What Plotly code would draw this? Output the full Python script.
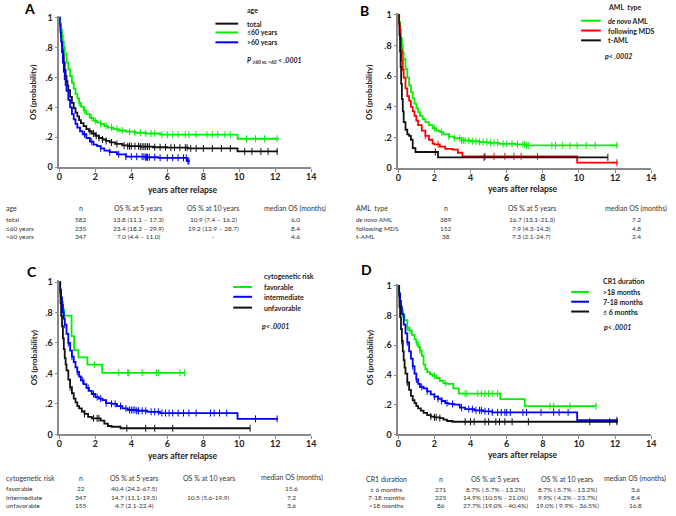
import numpy as np
import plotly.graph_objects as go

W, H = 676, 516

# ---------------- DATA ----------------
# Panel A: age
A_total_t = [0, 0.03, 0.06, 0.1, 0.15, 0.2, 0.25, 0.3, 0.35, 0.4, 0.45, 0.5, 0.6, 0.7, 0.8, 0.9, 1.0, 1.1, 1.2, 1.35, 1.5, 1.65, 1.8, 2.0, 2.2, 2.4, 2.6, 2.8, 3.1, 3.5, 3.8, 4.5, 5.2, 6.0, 7.15, 9.9, 12.15]
A_total_s = [1, 0.96, 0.92, 0.87, 0.81, 0.75, 0.70, 0.65, 0.61, 0.575, 0.545, 0.515, 0.47, 0.43, 0.395, 0.365, 0.34, 0.315, 0.295, 0.275, 0.255, 0.24, 0.225, 0.21, 0.195, 0.185, 0.175, 0.165, 0.155, 0.145, 0.14, 0.137, 0.133, 0.13, 0.125, 0.105, 0.105]
A_total_c = [1.7, 1.9, 2.05, 2.2, 2.4, 2.6, 2.9, 3.2, 3.6, 3.8, 3.9, 4.0, 4.2, 4.4, 4.5, 4.6, 4.7, 4.8, 4.9, 5.0, 5.3, 5.6, 5.9, 6.2, 6.4, 6.7, 7.0, 7.1, 7.3, 7.6, 8.0, 8.5, 9.0, 9.5, 10.3, 10.7, 11.2, 11.6, 12.1]
A_young_t = [0, 0.05, 0.1, 0.15, 0.2, 0.25, 0.3, 0.4, 0.5, 0.6, 0.7, 0.8, 0.9, 1.0, 1.1, 1.2, 1.35, 1.5, 1.7, 1.9, 2.1, 2.3, 2.5, 2.7, 3.0, 3.3, 3.7, 4.2, 4.8, 5.6, 9.9, 12.2]
A_young_s = [1, 0.96, 0.92, 0.88, 0.84, 0.80, 0.76, 0.70, 0.655, 0.61, 0.565, 0.525, 0.49, 0.46, 0.43, 0.405, 0.38, 0.355, 0.33, 0.31, 0.30, 0.29, 0.275, 0.265, 0.255, 0.245, 0.237, 0.23, 0.225, 0.217, 0.19, 0.19]
A_young_c = [1.1, 1.4, 1.8, 2.0, 2.3, 2.6, 2.9, 3.2, 3.5, 3.9, 4.2, 4.5, 4.8, 5.1, 5.3, 5.7, 6.0, 6.3, 6.6, 7.0, 7.2, 7.6, 8.2, 8.5, 8.8, 9.2, 9.5, 10.4, 10.9, 11.4, 12.1]
A_old_t = [0, 0.03, 0.06, 0.1, 0.15, 0.2, 0.25, 0.3, 0.35, 0.4, 0.5, 0.6, 0.7, 0.8, 0.9, 1.0, 1.15, 1.3, 1.5, 1.7, 1.9, 2.1, 2.3, 2.5, 2.8, 3.2, 3.7, 4.8, 5.5, 7.1, 7.25]
A_old_s = [1, 0.95, 0.9, 0.84, 0.77, 0.70, 0.64, 0.59, 0.55, 0.51, 0.45, 0.40, 0.355, 0.32, 0.29, 0.265, 0.24, 0.22, 0.195, 0.17, 0.15, 0.14, 0.125, 0.11, 0.10, 0.085, 0.07, 0.066, 0.062, 0.04, 0.04]
A_old_c = [1.4, 1.8, 2.3, 2.8, 3.3, 3.7, 4.0, 4.3, 4.6, 4.7, 4.8, 4.85, 4.9, 5.0, 5.3, 5.6, 6.0, 6.3, 6.6, 6.9, 7.05, 7.15, 7.2]

# Panel B: AML type
B_denovo_t = [0, 0.05, 0.1, 0.15, 0.2, 0.25, 0.3, 0.4, 0.5, 0.6, 0.7, 0.8, 0.9, 1.0, 1.1, 1.2, 1.35, 1.5, 1.7, 1.9, 2.1, 2.3, 2.5, 2.8, 3.1, 3.5, 4.0, 4.5, 5.0, 5.6, 6.5, 7.1, 12.15]
B_denovo_s = [1, 0.95, 0.9, 0.85, 0.80, 0.755, 0.71, 0.645, 0.59, 0.54, 0.495, 0.455, 0.42, 0.39, 0.365, 0.34, 0.32, 0.30, 0.28, 0.26, 0.245, 0.235, 0.22, 0.205, 0.195, 0.18, 0.175, 0.17, 0.165, 0.158, 0.155, 0.148, 0.148]
B_denovo_c = [2.0, 2.4, 2.8, 3.1, 3.4, 3.5, 3.6, 3.7, 3.9, 4.1, 4.3, 4.5, 4.7, 4.9, 5.1, 5.3, 5.5, 5.8, 6.0, 6.3, 6.6, 6.9, 7.0, 7.1, 7.2, 8.5, 8.7, 9.1, 9.5, 9.9, 10.4, 10.9, 12.1]
B_mds_t = [0, 0.05, 0.1, 0.15, 0.2, 0.25, 0.3, 0.4, 0.5, 0.6, 0.7, 0.8, 0.9, 1.0, 1.1, 1.3, 1.5, 1.7, 1.9, 2.0, 2.3, 2.6, 3.0, 3.3, 3.55, 9.9, 12.15]
B_mds_s = [1, 0.93, 0.85, 0.77, 0.70, 0.64, 0.59, 0.52, 0.47, 0.44, 0.40, 0.37, 0.34, 0.31, 0.28, 0.245, 0.21, 0.185, 0.16, 0.155, 0.14, 0.125, 0.12, 0.10, 0.077, 0.035, 0.035]
B_mds_c = [1.5, 2.2, 4.8, 5.3, 5.9, 6.4, 6.8, 7.7, 12.1]
B_taml_t = [0, 0.03, 0.06, 0.1, 0.13, 0.16, 0.2, 0.25, 0.3, 0.4, 0.5, 0.6, 0.7, 0.8, 0.95, 2.2, 11.6]
B_taml_s = [1, 0.95, 0.87, 0.76, 0.66, 0.55, 0.45, 0.37, 0.30, 0.25, 0.22, 0.21, 0.185, 0.13, 0.105, 0.07, 0.07]
B_taml_c = [2.05, 4.75, 11.6]

# Panel C: cytogenetic risk
C_fav_t = [0, 0.05, 0.1, 0.2, 0.27, 0.68, 0.82, 1.06, 1.56, 2.38, 6.96]
C_fav_s = [1, 0.91, 0.87, 0.82, 0.78, 0.645, 0.553, 0.505, 0.458, 0.404, 0.404]
C_fav_c = [0.15, 1.95, 3.3, 3.8, 3.85, 4.6, 5.4, 5.5, 6.7, 6.96]
C_int_t = [0, 0.05, 0.1, 0.15, 0.2, 0.25, 0.3, 0.4, 0.5, 0.6, 0.7, 0.8, 0.9, 1.0, 1.1, 1.2, 1.35, 1.5, 1.65, 1.8, 2.0, 2.2, 2.4, 2.6, 2.9, 3.2, 3.5, 3.8, 4.3, 4.9, 5.6, 9.9, 12.15]
C_int_s = [1, 0.95, 0.9, 0.85, 0.80, 0.76, 0.72, 0.66, 0.60, 0.55, 0.51, 0.475, 0.44, 0.41, 0.38, 0.355, 0.33, 0.305, 0.285, 0.265, 0.245, 0.235, 0.225, 0.205, 0.2, 0.185, 0.17, 0.16, 0.155, 0.148, 0.14, 0.102, 0.102]
C_int_c = [0.3, 0.5, 0.7, 1.0, 1.3, 1.6, 1.9, 2.1, 2.3, 2.6, 2.9, 3.1, 3.4, 3.7, 3.9, 4.0, 4.1, 4.2, 4.3, 4.4, 4.6, 4.8, 5.1, 5.3, 5.5, 5.7, 5.9, 6.1, 6.3, 6.6, 6.9, 7.2, 7.6, 8.4, 8.6, 8.9, 9.3, 10.9, 12.1]
C_unf_t = [0, 0.03, 0.06, 0.1, 0.15, 0.2, 0.25, 0.3, 0.35, 0.4, 0.5, 0.6, 0.7, 0.8, 0.9, 1.0, 1.1, 1.25, 1.4, 1.6, 1.8, 2.0, 2.3, 2.5, 2.7, 2.9, 3.4, 10.6]
C_unf_s = [1, 0.93, 0.86, 0.78, 0.71, 0.63, 0.56, 0.50, 0.46, 0.42, 0.36, 0.31, 0.27, 0.235, 0.21, 0.185, 0.17, 0.15, 0.135, 0.115, 0.105, 0.105, 0.09, 0.07, 0.055, 0.05, 0.04, 0.04]
C_unf_c = [0.6, 1.4, 1.9, 2.1, 2.2, 3.75, 4.8, 5.3, 6.3, 10.6]

# Panel D: CR1 duration
D_long_t = [0, 0.05, 0.1, 0.15, 0.25, 0.35, 0.5, 0.6, 0.75, 0.9, 1.0, 1.1, 1.2, 1.3, 1.4, 1.5, 1.6, 1.75, 1.9, 2.1, 2.3, 2.5, 2.7, 3.05, 3.35, 5.65, 7.0, 10.95]
D_long_s = [1, 0.93, 0.88, 0.84, 0.80, 0.77, 0.72, 0.70, 0.67, 0.64, 0.62, 0.59, 0.565, 0.53, 0.47, 0.44, 0.42, 0.405, 0.395, 0.38, 0.36, 0.345, 0.34, 0.31, 0.275, 0.237, 0.19, 0.19]
D_long_c = [0.1, 0.3, 0.5, 0.65, 1.0, 1.2, 2.0, 2.6, 3.7, 3.8, 4.4, 4.6, 4.8, 5.0, 5.2, 5.5, 8.4, 8.6, 9.5, 10.95]
D_mid_t = [0, 0.05, 0.1, 0.15, 0.2, 0.3, 0.4, 0.5, 0.6, 0.7, 0.8, 0.9, 1.0, 1.1, 1.2, 1.4, 1.6, 1.8, 2.0, 2.2, 2.4, 2.6, 2.8, 3.1, 3.4, 3.7, 4.2, 4.7, 5.2, 9.9, 12.15]
D_mid_s = [1, 0.95, 0.90, 0.86, 0.81, 0.74, 0.68, 0.62, 0.56, 0.51, 0.46, 0.41, 0.37, 0.34, 0.32, 0.31, 0.29, 0.27, 0.255, 0.24, 0.225, 0.21, 0.205, 0.2, 0.18, 0.17, 0.162, 0.155, 0.148, 0.095, 0.095]
D_mid_c = [0.5, 0.8, 1.0, 1.3, 1.6, 2.0, 2.2, 2.4, 2.7, 3.0, 3.5, 3.9, 4.1, 4.3, 4.5, 4.6, 4.8, 5.0, 5.2, 5.5, 5.7, 5.9, 6.0, 6.2, 6.9, 7.1, 7.9, 8.6, 8.9, 9.4, 12.1]
D_short_t = [0, 0.03, 0.06, 0.1, 0.15, 0.2, 0.25, 0.3, 0.35, 0.4, 0.5, 0.6, 0.7, 0.8, 0.9, 1.0, 1.1, 1.25, 1.4, 1.6, 1.8, 2.0, 2.3, 2.5, 2.7, 3.0, 12.15]
D_short_s = [1, 0.93, 0.86, 0.79, 0.71, 0.63, 0.56, 0.50, 0.45, 0.41, 0.35, 0.30, 0.26, 0.23, 0.21, 0.19, 0.175, 0.16, 0.145, 0.13, 0.12, 0.115, 0.11, 0.1, 0.09, 0.085, 0.085]
D_short_c = [0.2, 0.5, 1.8, 2.0, 2.1, 2.3, 3.7, 4.0, 4.2, 4.8, 5.0, 5.4, 5.6, 5.9, 6.3, 7.2, 10.6, 11.7, 12.1]

x_ticks = [0, 2, 4, 6, 8, 10, 12, 14]
y_ticks = [0, 0.2, 0.4, 0.6, 0.8, 1.0]
y_tick_labels = ["0", ".2", ".4", ".6", ".8", "1"]

# Tables
A_head = ["age", "n", "OS % at 5 years", "OS % at 10 years", "median OS (months)"]
A_rows = [["total", "582", "13.8 (11.1 – 17.3)", "10.9 (7.4 – 16.2)", "6.0"],
          ["≤60 years", "235", "23.4 (18.2 – 29.9)", "19.2 (12.9 – 28.7)", "8.4"],
          [">60 years", "347", "7.0 (4.4 – 11.0)", "-", "4.6"]]
B_head = ["AML  type", "n", "OS % at 5 years", "median OS (months)"]
B_rows = [["<i>de novo</i> AML", "389", "16.7 (13.1-21.3)", "7.2"],
          ["following MDS", "152", "7.9 (4.3-14.3)", "4.8"],
          ["t-AML", "38", "7.3 (2.1-24.7)", "2.4"]]
C_head = ["cytogenetic risk", "n", "OS % at 5 years", "OS % at 10 years", "median OS (months)"]
C_rows = [["favorable", "22", "40.4 (24.2-67.5)", "", "15.6"],
          ["intermediate", "347", "14.7 (11.1-19.5)", "10.5 (5.6-19.9)", "7.2"],
          ["unfavorable", "155", "4.7 (2.1-22.4)", "", "3.6"]]
D_head = ["CR1 duration", "n", "OS % at 5 years", "OS % at 10 years", "median OS (months)"]
D_rows = [["≤ 6 months", "271", "8.7% ( 5.7% - 13.2%)", "8.7% ( 5.7% - 13.2%)", "3.6"],
          ["7-18 months", "225", "14.9% (10.5% - 21.0%)", "9.9% ( 4.2% - 23.7%)", "8.4"],
          [">18 months", "86", "27.7% (19.0% - 40.4%)", "19.0% ( 9.9% - 36.5%)", "16.8"]]

GREEN, BLUE, BLACK, RED = "#00f000", "#0000ff", "#111111", "#ff0000"

# ---------------- LAYOUT HELPERS ----------------
def fx(px):
    return px / W

def fy(py):
    return 1 - py / H

annotations = []
shapes = []

def txt(x, y, s, size=7, bold=False, italic=False, xanchor="left", color="#222", angle=0):
    annotations.append(dict(
        x=fx(x), y=fy(y), xref="paper", yref="paper", text=s, showarrow=False,
        xanchor=xanchor, yanchor="middle", textangle=angle,
        font=dict(family="Lato", size=size, color=color,
                  weight="bold" if bold else "normal",
                  style="italic" if italic else "normal")))

fig = go.Figure()

def step_at(ts, ss, t):
    i = np.searchsorted(np.array(ts), t, side="right") - 1
    return float(ss[max(i, 0)])

panels = [
    dict(ax="", x0=57, x1=312, y0=166, y1=14,
         curves=[(A_total_t, A_total_s, A_total_c, BLACK),
                 (A_young_t, A_young_s, A_young_c, GREEN),
                 (A_old_t, A_old_s, A_old_c, BLUE)]),
    dict(ax="2", x0=400, x1=656, y0=167, y1=11,
         curves=[(B_denovo_t, B_denovo_s, B_denovo_c, GREEN),
                 (B_mds_t, B_mds_s, B_mds_c, RED),
                 (B_taml_t, B_taml_s, B_taml_c, BLACK)]),
    dict(ax="3", x0=57, x1=312, y0=438, y1=283,
         curves=[(C_fav_t, C_fav_s, C_fav_c, GREEN),
                 (C_int_t, C_int_s, C_int_c, BLUE),
                 (C_unf_t, C_unf_s, C_unf_c, BLACK)]),
    dict(ax="4", x0=400, x1=656, y0=438, y1=287,
         curves=[(D_long_t, D_long_s, D_long_c, GREEN),
                 (D_mid_t, D_mid_s, D_mid_c, BLUE),
                 (D_short_t, D_short_s, D_short_c, BLACK)]),
]

YTOP = 1.015
axis_common = dict(showline=True, linecolor="#8a8a8a", linewidth=1.5, ticks="outside",
                   ticklen=3, tickwidth=1, tickcolor="#8a8a8a", showgrid=False, zeroline=False,
                   tickfont=dict(family="Lato", size=9, color="#222", weight="bold"), fixedrange=True)

for p in panels:
    xa, ya = "x" + p["ax"], "y" + p["ax"]
    for ts, ss, cs, col in p["curves"]:
        fig.add_trace(go.Scatter(x=ts, y=ss, mode="lines", line=dict(color=col, width=1.8, shape="hv"),
                                 xaxis=xa, yaxis=ya, showlegend=False, hoverinfo="skip"))
        cy = [step_at(ts, ss, c) for c in cs]
        fig.add_trace(go.Scatter(x=cs, y=cy, mode="markers",
                                 marker=dict(symbol="line-ns", size=5, line=dict(color=col, width=1)),
                                 xaxis=xa, yaxis=ya, showlegend=False, hoverinfo="skip", cliponaxis=False))
    per = (p["y0"] - p["y1"])
    top_px = p["y0"] - per * YTOP
    fig.layout["xaxis" + p["ax"]] = dict(axis_common, domain=[fx(p["x0"]), fx(p["x1"])], range=[0, 14],
                                          tickvals=x_ticks, anchor=ya, ticklabelstandoff=-3)
    fig.layout["yaxis" + p["ax"]] = dict(axis_common, domain=[fy(p["y0"]), fy(top_px)], range=[0, YTOP],
                                          tickvals=y_ticks, ticktext=y_tick_labels, anchor=xa)

# Panel letters
txt(27, 5, "A", size=14, bold=True, xanchor="center", color="#000")
txt(366, 7, "B", size=14, bold=True, xanchor="center", color="#000")
txt(29, 272, "C", size=14, bold=True, xanchor="center", color="#000")
txt(368, 270, "D", size=14, bold=True, xanchor="center", color="#000")

# Axis titles
for (yx, yy, xx, xy) in [(31, 90, 182, 189), (371, 90, 526, 188), (31, 360, 182, 460), (371, 360, 526, 459)]:
    txt(yx, yy, "OS (probability)", size=8, bold=True, xanchor="center", angle=-90)
    txt(xx, xy, "years after relapse", size=8.5, bold=True, xanchor="center")

# Legends
def legend(title, tx, ty, lx0, lx1, ys, items, ptext, ppos):
    txt(tx, ty, title, size=7, bold=True)
    for (name, col), yy in zip(items, ys):
        shapes.append(dict(type="line", xref="paper", yref="paper", x0=fx(lx0), x1=fx(lx1),
                           y0=fy(yy), y1=fy(yy), line=dict(color=col, width=2)))
        txt(tx, yy, name, size=7, bold=True)
    txt(ppos[0], ppos[1], ptext, size=7, bold=True, italic=True)

legend("age", 245, 6, 215, 238, [20, 29, 39],
       [("total", BLACK), ("≤60 years", GREEN), ("&gt;60 years", BLUE)],
       "P <sub>≤60 vs. &gt;60</sub> &lt; .0001", (245, 57))
legend("AML  type", 610, 3, 585, 605, [17, 27, 37],
       [("<i>de novo</i> AML", GREEN), ("following MDS", RED), ("t-AML", BLACK)],
       "p&lt; .0002", (607, 53))
legend("cytogenetic risk", 262, 277, 233, 252, [288, 298, 309],
       [("favorable", GREEN), ("intermediate", BLUE), ("unfavorable", BLACK)],
       "p&lt; .0001", (260, 328))
legend("CR1 duration", 605, 282, 575, 593, [293, 303, 313],
       [("&gt;18 months", GREEN), ("7-18 months", BLUE), ("≤ 6 months", BLACK)],
       "p&lt; .0001", (606, 329))

# Tables
def table(head, rows, cols, anchors, ys):
    for j, h in enumerate(head):
        txt(cols[j], ys[0], h, size=7, xanchor=anchors[j], color="#333")
    for i, r in enumerate(rows):
        for j, v in enumerate(r):
            if v == "":
                continue
            v2 = v if "<i>" in v else v.replace(">", "&gt;")
            txt(cols[j], ys[i + 1], v2, size=6.5, xanchor=anchors[j], color="#333")

table(A_head, A_rows, [1, 79, 137, 213, 296], ["left", "center", "center", "center", "center"], [208, 219, 228, 237])
table(B_head, B_rows, [355, 448, 535, 641], ["left", "center", "center", "center"], [208, 219, 228, 237])
table(C_head, C_rows, [1, 79, 133, 208, 292], ["left", "center", "center", "center", "center"], [482, 493, 502, 510])
table(D_head, D_rows, [388, 443, 498, 571, 640], ["center", "center", "center", "center", "center"], [483, 494, 502, 510])

fig.update_layout(width=W, height=H, margin=dict(l=0, r=0, t=0, b=0),
                  paper_bgcolor="white", plot_bgcolor="white",
                  annotations=annotations, shapes=shapes, showlegend=False)
fig.write_html("out.html", config={"displayModeBar": False},
               post_script="document.body.style.margin='0';document.body.style.overflow='hidden';")
